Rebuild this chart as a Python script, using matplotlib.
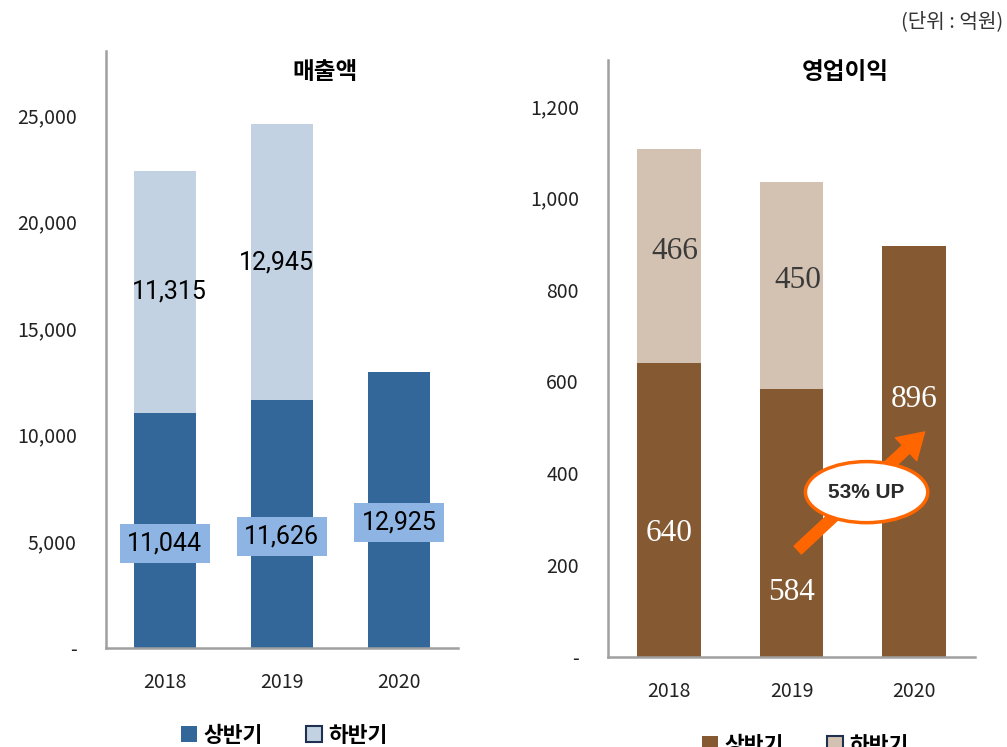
import matplotlib
matplotlib.use("Agg")
import matplotlib.pyplot as plt
from matplotlib.patches import Patch, Ellipse
from matplotlib.ticker import FuncFormatter

plt.rcParams['font.family'] = ['Noto Sans CJK KR', 'DejaVu Sans']

# ---- data ----
years = ["2018", "2019", "2020"]
sales_h1 = [11044, 11626, 12925]
sales_h2 = [11315, 12945, 0]
profit_h1 = [640, 584, 896]
profit_h2 = [466, 450, 0]
sales_ticks = [0, 5000, 10000, 15000, 20000, 25000]
profit_ticks = [0, 200, 400, 600, 800, 1000, 1200]
title_sales = "매출액"
title_profit = "영업이익"
legend_labels = ["상반기", "하반기"]
unit_text = "(단위 : 억원)"
growth_text = "53% UP"

# ---- layout / style ----
c_blue = "#336699"
c_blue_light = "#C2D2E2"
c_box = "#8DB4E2"
c_brown = "#855A32"
c_brown_light = "#D3C2B1"
c_orange = "#FF6600"
spine_c = "#A0A0A0"
sales_lbl_frac = [0.445, 0.45, 0.455]
sales_up_dx = [0.04, -0.05, 0.0]
profit_lbl_frac = [0.42, 0.24, 0.625]

W, H = 1007, 747
fig = plt.figure(figsize=(W / 100, H / 100), dpi=100)

def fmt(v, _):
    return "-" if v == 0 else f"{int(v):,}"

def style_ax(ax):
    for s in ("top", "right"):
        ax.spines[s].set_visible(False)
    for s in ("left", "bottom"):
        ax.spines[s].set_color(spine_c)
        ax.spines[s].set_linewidth(1.8)
    ax.tick_params(axis="both", length=0, labelsize=14, colors="#222222")
    ax.tick_params(axis="y", pad=21)
    ax.tick_params(axis="x", pad=17)
    ax.yaxis.set_major_formatter(FuncFormatter(fmt))
    ax.set_xlim(-0.5, 2.5)

x = list(range(len(years)))

# ---- left: sales ----
ax1 = fig.add_axes([106 / W, (H - 648) / H, 352 / W, 597 / H])
style_ax(ax1)
ax1.bar(x, sales_h1, width=0.53, color=c_blue, edgecolor="none")
ax1.bar(x, sales_h2, width=0.53, bottom=sales_h1, color=c_blue_light, edgecolor="none")
ax1.set_ylim(0, 28000)
ax1.set_yticks(sales_ticks)
ax1.set_xticks(x)
ax1.set_xticklabels(years)
for i in x:
    ax1.text(i, sales_h1[i] * sales_lbl_frac[i], f"{sales_h1[i]:,}", ha="center", va="center",
             fontsize=18, family="Roboto", color="black",
             bbox=dict(boxstyle="square,pad=0.3", fc=c_box, ec="none"))
    if sales_h2[i] > 0:
        ax1.text(i + sales_up_dx[i], sales_h1[i] + sales_h2[i] / 2, f"{sales_h2[i]:,}",
                 ha="center", va="center", fontsize=18, family="Roboto", color="black")
ax1.text(0.622, 0.965, title_sales, transform=ax1.transAxes, ha="center", va="center",
         fontsize=17, fontweight="bold", color="black")
ax1.legend(handles=[Patch(fc=c_blue, ec="none"), Patch(fc=c_blue_light, ec="#1F3050", lw=1.5)],
           labels=legend_labels, loc="center", bbox_to_anchor=(284 / W, 1 - 735 / H),
           bbox_transform=fig.transFigure, ncol=2, frameon=False, handlelength=0.75,
           handleheight=0.75, handletextpad=0.3, columnspacing=2.0,
           prop=dict(size=15.5, weight="bold"))

# ---- right: operating profit ----
ax2 = fig.add_axes([608 / W, (H - 657) / H, 367 / W, 597 / H])
style_ax(ax2)
ax2.bar(x, profit_h1, width=0.52, color=c_brown, edgecolor="none")
ax2.bar(x, profit_h2, width=0.52, bottom=profit_h1, color=c_brown_light, edgecolor="none")
ax2.set_ylim(0, 1300)
ax2.set_yticks(profit_ticks)
ax2.set_xticks(x)
ax2.set_xticklabels(years)
for i in x:
    ax2.text(i, profit_h1[i] * profit_lbl_frac[i], f"{profit_h1[i]}", ha="center", va="center",
             fontsize=22.5, family="Liberation Serif", color="white")
    if profit_h2[i] > 0:
        ax2.text(i + 0.05, profit_h1[i] + profit_h2[i] / 2 + 10, f"{profit_h2[i]}", ha="center",
                 va="center", fontsize=22.5, family="Liberation Serif", color="#3A3A3A")
ax2.text(0.646, 0.98, title_profit, transform=ax2.transAxes, ha="center", va="center",
         fontsize=17, fontweight="bold", color="black")

# growth arrow + ellipse
ax2.annotate("", xy=(2.088, 490), xytext=(1.051, 233),
             arrowprops=dict(arrowstyle="simple,head_length=1.3,head_width=1.6,tail_width=0.55",
                             fc=c_orange, ec=c_orange, mutation_scale=14, shrinkA=0, shrinkB=0))
ax2.add_patch(Ellipse((1.614, 359), 1.0, 133, fc="white", ec=c_orange, lw=2.5, zorder=5))
ax2.text(1.614, 359, growth_text, ha="center", va="center", fontsize=15, fontweight="bold",
         family="Liberation Sans", color="#2B2B2B", zorder=6)

ax2.legend(handles=[Patch(fc=c_brown, ec="none"), Patch(fc=c_brown_light, ec="#1F3050", lw=1.5)],
           labels=legend_labels, loc="center", bbox_to_anchor=(805 / W, 1 - 745 / H),
           bbox_transform=fig.transFigure, ncol=2, frameon=False, handlelength=0.75,
           handleheight=0.75, handletextpad=0.3, columnspacing=2.0,
           prop=dict(size=15.5, weight="bold"))

fig.text(1003 / W, 1 - 22 / H, unit_text, ha="right", va="center", fontsize=14.5, color="#333333")

fig.savefig("out.png", dpi=100)
